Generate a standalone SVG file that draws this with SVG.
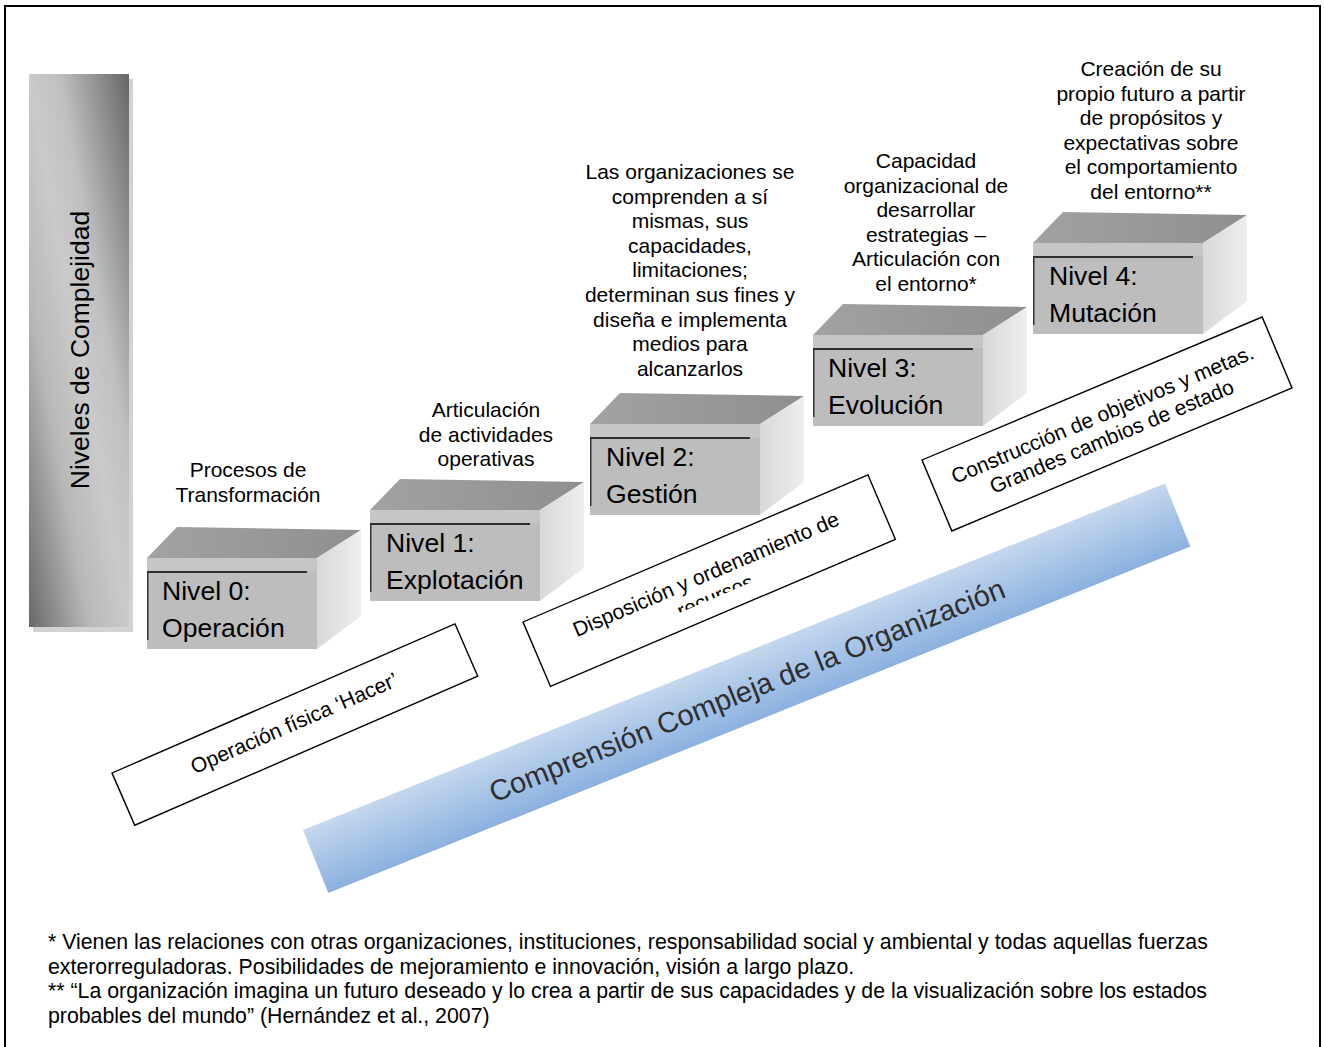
<svg xmlns="http://www.w3.org/2000/svg" xmlns:xlink="http://www.w3.org/1999/xlink" width="1325" height="1047" viewBox="0 0 1325 1047">
<style>
text{font-family:"Liberation Sans",Arial,sans-serif;fill:#000}
.ann{font-size:21px;text-anchor:middle}
.lvl{font-size:26.6px}
.lbl{font-size:21px;text-anchor:middle}
.note{font-size:21.3px}
.frame{fill:none;stroke:#000;stroke-width:1.4}
</style>
<defs>
<linearGradient id="barG" gradientUnits="userSpaceOnUse" x1="-17" y1="368" x2="175" y2="333">
<stop offset="0" stop-color="#6a6a6a"/>
<stop offset="0.3" stop-color="#b8b8b8"/>
<stop offset="0.5" stop-color="#cacaca"/>
<stop offset="0.65" stop-color="#c0c0c0"/>
<stop offset="1" stop-color="#686868"/>
</linearGradient>
<linearGradient id="topG" x1="0" y1="0" x2="1" y2="0">
<stop offset="0" stop-color="#a2a2a2"/>
<stop offset="1" stop-color="#8f8f8f"/>
</linearGradient>
<linearGradient id="sideG" x1="0" y1="0" x2="1" y2="0">
<stop offset="0" stop-color="#d8d8d8"/>
<stop offset="1" stop-color="#eeeeee"/>
</linearGradient>
<linearGradient id="bandG" x1="0" y1="0" x2="0" y2="1">
<stop offset="0" stop-color="#c4d7ee"/>
<stop offset="1" stop-color="#8bb1df"/>
</linearGradient>
<g id="cube">
<polygon points="0,0 30,-31 214,-28 170,0" fill="url(#topG)"/>
<polygon points="170,0 214,-28 214,58 170,91" fill="url(#sideG)"/>
<rect x="0" y="0" width="170" height="91" fill="#bdbdbd"/>
<rect x="0" y="0" width="170" height="13" fill="#c6c6c6"/>
<line x1="0" y1="14" x2="160" y2="14" stroke="#000" stroke-width="1.5"/>
<line x1="0.75" y1="14" x2="0.75" y2="82" stroke="#333" stroke-width="1.5"/>
</g>
<clipPath id="recClip"><rect x="0" y="0" width="375" height="53"/></clipPath>
</defs>

<rect x="5" y="6" width="1315" height="1050" fill="#fff" stroke="#000" stroke-width="2"/>

<g id="axis">
<rect x="33" y="79" width="100" height="553" fill="#d2d2d2"/>
<rect x="29" y="74" width="100" height="553" fill="url(#barG)"/>
<text transform="translate(89,350) rotate(-90)" font-size="26.5" text-anchor="middle">Niveles de Complejidad</text>
</g>

<g id="band" transform="translate(303,830) rotate(-21.9)">
<rect x="0" y="0" width="929" height="68" fill="url(#bandG)"/>
<text x="464" y="46" font-size="29" text-anchor="middle" style="fill:#2e2e2e">Comprensión Compleja de la Organización</text>
</g>

<g id="nivel0" transform="translate(147,558)">
<use xlink:href="#cube"/>
<text class="lvl" x="15" y="42">Nivel 0:</text>
<text class="lvl" x="15" y="79">Operación</text>
</g>
<g id="nivel1" transform="translate(370,510)">
<use xlink:href="#cube"/>
<text class="lvl" x="16" y="42">Nivel 1:</text>
<text class="lvl" x="16" y="79">Explotación</text>
</g>
<g id="nivel2" transform="translate(590,424)">
<use xlink:href="#cube"/>
<text class="lvl" x="16" y="42">Nivel 2:</text>
<text class="lvl" x="16" y="79">Gestión</text>
</g>
<g id="nivel3" transform="translate(813,335)">
<use xlink:href="#cube"/>
<text class="lvl" x="15" y="42">Nivel 3:</text>
<text class="lvl" x="15" y="79">Evolución</text>
</g>
<g id="nivel4" transform="translate(1033,243)">
<use xlink:href="#cube"/>
<text class="lvl" x="16" y="42">Nivel 4:</text>
<text class="lvl" x="16" y="79">Mutación</text>
</g>

<g id="desc0">
<text class="ann" x="248" y="477">Procesos de</text>
<text class="ann" x="248" y="501.6">Transformación</text>
</g>
<g id="desc1">
<text class="ann" x="486" y="417">Articulación</text>
<text class="ann" x="486" y="441.6">de actividades</text>
<text class="ann" x="486" y="466.2">operativas</text>
</g>
<g id="desc2">
<text class="ann" x="690" y="179">Las organizaciones se</text>
<text class="ann" x="690" y="203.6">comprenden a sí</text>
<text class="ann" x="690" y="228.2">mismas, sus</text>
<text class="ann" x="690" y="252.8">capacidades,</text>
<text class="ann" x="690" y="277.4">limitaciones;</text>
<text class="ann" x="690" y="302">determinan sus fines y</text>
<text class="ann" x="690" y="326.6">diseña e implementa</text>
<text class="ann" x="690" y="351.2">medios para</text>
<text class="ann" x="690" y="375.8">alcanzarlos</text>
</g>
<g id="desc3">
<text class="ann" x="926" y="168">Capacidad</text>
<text class="ann" x="926" y="192.6">organizacional de</text>
<text class="ann" x="926" y="217.2">desarrollar</text>
<text class="ann" x="926" y="241.8">estrategias –</text>
<text class="ann" x="926" y="266.4">Articulación con</text>
<text class="ann" x="926" y="291">el entorno*</text>
</g>
<g id="desc4">
<text class="ann" x="1151" y="76">Creación de su</text>
<text class="ann" x="1151" y="100.6">propio futuro a partir</text>
<text class="ann" x="1151" y="125.2">de propósitos y</text>
<text class="ann" x="1151" y="149.8">expectativas sobre</text>
<text class="ann" x="1151" y="174.4">el comportamiento</text>
<text class="ann" x="1151" y="199">del entorno**</text>
</g>

<g id="lbl-hacer" transform="translate(112,773) rotate(-23.5)">
<rect x="0" y="0" width="374" height="57" fill="#fff" class="frame"/>
<text class="lbl" x="187" y="34">Operación física ‘Hacer’</text>
</g>
<g id="lbl-recursos" transform="translate(523,622) rotate(-23.1)">
<rect x="0" y="0" width="375" height="70" fill="#fff" class="frame"/>
<g clip-path="url(#recClip)">
<text class="lbl" x="187" y="35">Disposición y ordenamiento de</text>
<text class="lbl" x="187" y="59">recursos</text>
</g>
</g>
<g id="lbl-objetivos" transform="translate(922,460) rotate(-22.8)">
<rect x="0" y="0" width="369" height="77" fill="#fff" class="frame"/>
<text class="lbl" x="184" y="35">Construcción de objetivos y metas.</text>
<text class="lbl" x="184" y="59">Grandes cambios de estado</text>
</g>

<g id="footnotes">
<text class="note" x="48" y="949">* Vienen las relaciones con otras organizaciones, instituciones, responsabilidad social y ambiental y todas aquellas fuerzas</text>
<text class="note" x="48" y="973.5">exterorreguladoras. Posibilidades de mejoramiento e innovación, visión a largo plazo.</text>
<text class="note" x="48" y="998">** “La organización imagina un futuro deseado y lo crea a partir de sus capacidades y de la visualización sobre los estados</text>
<text class="note" x="48" y="1022.5">probables del mundo” (Hernández et al., 2007)</text>
</g>
</svg>
